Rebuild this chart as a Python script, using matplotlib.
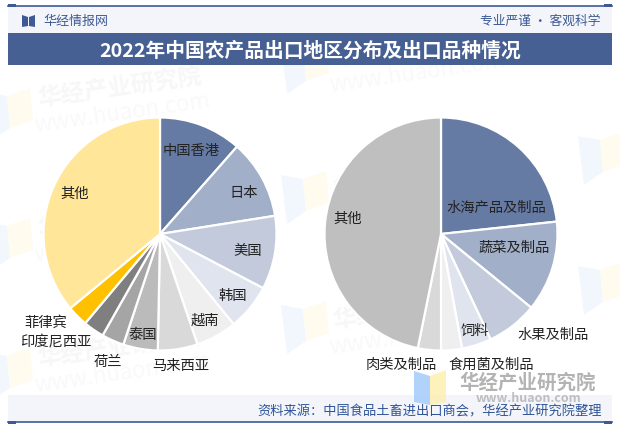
import matplotlib
matplotlib.use("Agg")
import matplotlib.pyplot as plt
from matplotlib.patches import Rectangle, Polygon

plt.rcParams['font.family'] = ['Noto Sans CJK SC', 'DejaVu Sans']

title = "2022年中国农产品出口地区分布及出口品种情况"
source = "资料来源：中国食品土畜进出口商会，华经产业研究院整理"

regions = ["中国香港", "日本", "美国", "韩国", "越南", "马来西亚", "泰国", "荷兰", "印度尼西亚", "菲律宾", "其他"]
region_values = [11.5, 11.0, 10.2, 6.4, 5.7, 5.5, 4.8, 3.1, 2.9, 2.9, 36.0]
region_colors = ["#667BA3", "#A2AFC8", "#C3CADB", "#E0E4EE", "#EFEFEF", "#D9D9D9", "#BBBBBB", "#A5A5A5", "#7F7F7F", "#FFC000", "#FFE699"]
region_label_xy = [(191, 150.5), (244, 192.5), (248, 250.5), (233, 295.5), (205, 320.5), (181, 365.5), (143, 334.5), (108, 361.5), (56, 342.5), (46, 322.5), (75, 193.5)]

products = ["水海产品及制品", "蔬菜及制品", "水果及制品", "饲料", "食用菌及制品", "肉类及制品", "其他"]
product_values = [23.3, 12.6, 7.1, 4.1, 2.9, 3.2, 46.8]
product_colors = ["#667BA3", "#A2AFC8", "#C3CADB", "#E0E4EE", "#EFEFEF", "#D9D9D9", "#BFBFBF"]
product_label_xy = [(496, 207.5), (514, 247.5), (553, 334.5), (475, 330.5), (491, 364.5), (401, 364.5), (348, 218.5)]

W, H = 620, 426
NAVY = "#3D5A94"
fig = plt.figure(figsize=(W / 100, H / 100), dpi=100, facecolor="white")

bg = fig.add_axes([0, 0, 1, 1], zorder=0)
bg.set_xlim(0, W); bg.set_ylim(H, 0); bg.axis("off")

# faint watermarks
for x, y in [(120, 88), (120, 218), (120, 348), (415, 48), (415, 178), (415, 310)]:
    bg.text(x, y, "华经产业研究院", fontsize=17, fontweight="bold", color="#F7F7F7", rotation=8,
            ha="center", va="center", zorder=1)
    bg.text(x + 2, y + 25, "www.huaon.com", fontsize=16, color="#F9F9F9", rotation=8,
            ha="center", va="center", zorder=1)
for x, y in [(-15, 92), (-15, 222), (-15, 352), (281, 45), (281, 175), (281, 305), (578, 136), (578, 266)]:
    bg.add_patch(Polygon([(x, y), (x + 22, y + 4), (x + 25, y + 36), (x + 6, y + 49)], color="#F2F7FD", lw=0, zorder=1))
    bg.add_patch(Polygon([(x + 22, y + 4), (x + 45, y - 4), (x + 48, y + 28), (x + 25, y + 36)], color="#FFFBEF", lw=0, zorder=1))

# header
bg.add_patch(Rectangle((8, 6), 604, 27, color="#F3F5FA", lw=0, zorder=2))
bg.plot([8, 612], [5.5, 5.5], color=NAVY, lw=1.2, zorder=3)
bg.add_patch(Rectangle((8, 4), 8, 3, color=NAVY, lw=0, zorder=3))
bg.add_patch(Rectangle((604, 4), 8, 3, color=NAVY, lw=0, zorder=3))
bg.add_patch(Polygon([(22, 15), (28, 17), (28, 26), (22, 27)], color=NAVY, lw=0, zorder=3))
bg.add_patch(Polygon([(29, 17), (35, 15), (35, 27), (29, 26)], color=NAVY, lw=0, zorder=3))
bg.text(43, 21.5, "华经情报网", fontsize=9.4, color=NAVY, va="center", ha="left", zorder=3)
bg.text(600, 21, "专业严谨 • 客观科学", fontsize=9.2, color=NAVY, va="center", ha="right", zorder=3)
bg.add_patch(Rectangle((8, 33), 604, 32, color="#466093", lw=0, zorder=2))
bg.text(310, 51.5, title, fontsize=14.2, fontweight="bold", color="white", ha="center", va="center", zorder=3)

# footer
bg.add_patch(Rectangle((8, 395), 604, 27, color="#F3F5FA", lw=0, zorder=2))
bg.plot([8, 612], [422, 422], color=NAVY, lw=1.2, zorder=3)
bg.add_patch(Rectangle((8, 421), 8, 3, color=NAVY, lw=0, zorder=3))
bg.add_patch(Rectangle((604, 421), 8, 3, color=NAVY, lw=0, zorder=3))


def pie(cx, cy, r, values, colors):
    pad = r + 3
    ax = fig.add_axes([(cx - pad) / W, 1 - (cy + pad) / H, 2 * pad / W, 2 * pad / H], zorder=1)
    ax.pie(values, colors=colors, startangle=90, counterclock=False, radius=r / pad,
           wedgeprops=dict(edgecolor="white", linewidth=1.6))
    ax.set_xlim(-1, 1); ax.set_ylim(-1, 1); ax.set_aspect("equal")
    ax.patch.set_alpha(0)


pie(160, 234, 116.5, region_values, region_colors)
pie(441, 234, 116.5, product_values, product_colors)

top = fig.add_axes([0, 0, 1, 1], zorder=2)
top.set_xlim(0, W); top.set_ylim(H, 0); top.axis("off"); top.patch.set_alpha(0)
for names, pos in [(regions, region_label_xy), (products, product_label_xy)]:
    for n, (x, y) in zip(names, pos):
        top.text(x, y, n, fontsize=10.3, color="#222222", ha="center", va="center")

# logo, bottom right
top.add_patch(Polygon([(414, 371), (430, 376), (430, 405), (414, 402)], color="#A9CDFB", alpha=0.9, lw=0))
top.add_patch(Polygon([(430, 376), (446, 370), (446, 402), (430, 405)], color="#FDF0B5", alpha=0.9, lw=0))
top.text(528, 383, "华经产业研究院", fontsize=14, fontweight="bold", color="#A6A6A6", alpha=0.85, ha="center", va="center")
top.text(528, 399, "www.huaon.com", fontsize=9, fontweight="bold", color="#A6A6A6", alpha=0.7, ha="center", va="center")
top.text(602, 411.5, source, fontsize=9.5, color="#2F5597", ha="right", va="center")

fig.savefig("out.png", dpi=100)
